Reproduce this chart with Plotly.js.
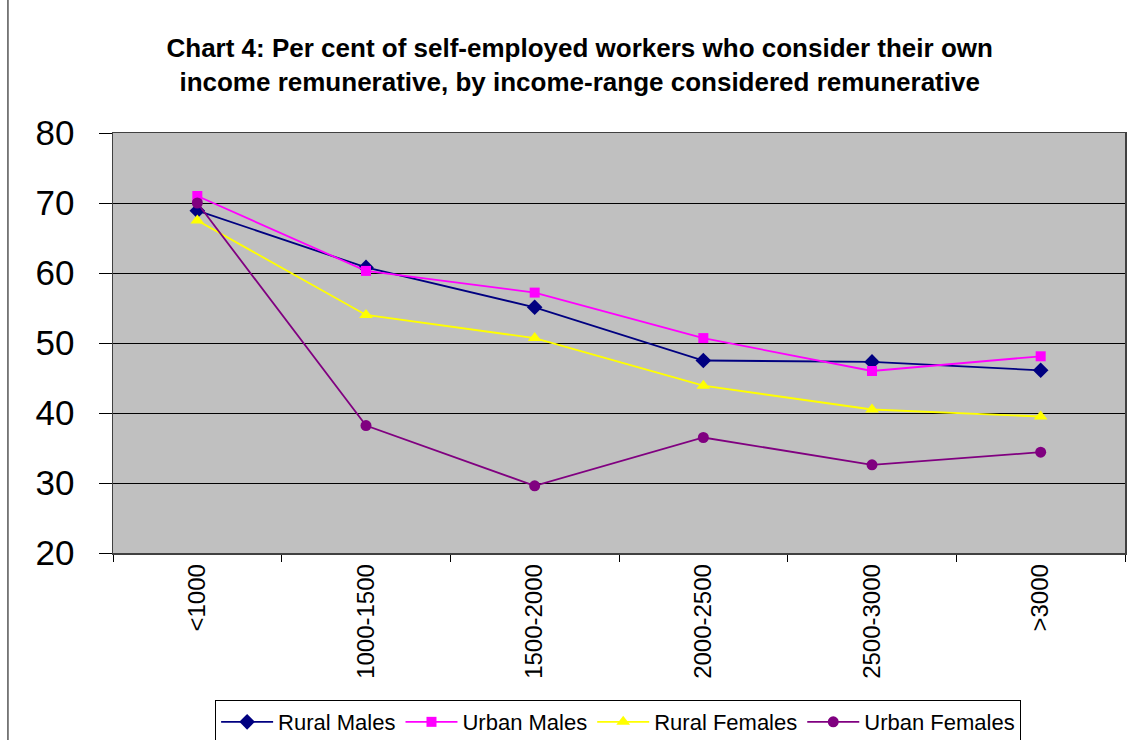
<!DOCTYPE html>
<html>
<head>
<meta charset="utf-8">
<script src="https://cdn.plot.ly/plotly-3.0.1.min.js"></script>
<style>html,body{margin:0;padding:0;background:#fff;}#chart{width:1130px;height:740px;}</style>
</head>
<body>
<div id="chart"></div>
<script>
var categories = ["<1000", "1000-1500", "1500-2000", "2000-2500", "2500-3000", ">3000"];
var ruralMales = [68.9, 60.8, 55.1, 47.5, 47.3, 46.1];
var urbanMales = [71.0, 60.3, 57.2, 50.7, 46.0, 48.1];
var ruralFemales = [67.5, 54.0, 50.7, 43.9, 40.5, 39.5];
var urbanFemales = [70.0, 38.2, 29.6, 36.5, 32.6, 34.4];
var yTicks = [20, 30, 40, 50, 60, 70, 80];

function series(name, y, color, symbol, size) {
  return {
    type: 'scatter', mode: 'lines+markers', name: name,
    x: categories, y: y,
    line: {color: color, width: 1.8},
    marker: {color: color, symbol: symbol, size: size}
  };
}

var data = [
  series('Rural Males', ruralMales, '#000080', 'diamond', 12),
  series('Urban Males', urbanMales, '#FF00FF', 'square', 10),
  series('Rural Females', ruralFemales, '#FFFF00', 'triangle-up', 12),
  series('Urban Females', urbanFemales, '#800080', 'circle', 11)
];

var layout = {
  width: 1130, height: 740,
  margin: {l: 113, r: 5, t: 133, b: 187},
  paper_bgcolor: '#FFFFFF',
  plot_bgcolor: '#C0C0C0',
  font: {family: 'Liberation Sans, Arial, sans-serif', color: '#000'},
  title: {
    text: '<b>Chart 4: Per cent of self-employed workers who consider their own<br>income remunerative, by income-range considered remunerative</b>',
    font: {size: 26, color: '#000', family: 'Liberation Sans, Arial, sans-serif'},
    x: 0.513, xanchor: 'center', y: 0.923, yanchor: 'middle'
  },
  xaxis: {
    type: 'category',
    range: [-0.5, 5.5],
    tickangle: -90,
    tickfont: {size: 24},
    ticks: 'outside', ticklen: 7, tickcolor: '#000',
    tickson: 'boundaries',
    showgrid: false,
    showline: true, linecolor: '#404040', linewidth: 1.5, mirror: true,
    fixedrange: true
  },
  yaxis: {
    range: [20, 80],
    tickvals: yTicks,
    tickfont: {size: 35},
    ticks: 'outside', ticklen: 13, tickcolor: '#000',
    ticklabelstandoff: 17,
    showgrid: true, gridcolor: '#000', gridwidth: 1,
    zeroline: false,
    showline: true, linecolor: '#404040', linewidth: 1.5, mirror: true,
    fixedrange: true
  },
  showlegend: true,
  legend: {
    orientation: 'h',
    xref: 'container', yref: 'container',
    x: 0.547, xanchor: 'center',
    y: 0.054, yanchor: 'top',
    bordercolor: '#000', borderwidth: 1,
    bgcolor: '#FFFFFF',
    font: {size: 22},
    itemwidth: 52,
    traceorder: 'normal'
  },
  shapes: [
    {type: 'line', xref: 'paper', yref: 'paper', x0: -0.1038, x1: -0.1038, y0: -0.46, y1: 1.33, line: {color: '#000', width: 1}}
  ]
};

Plotly.newPlot('chart', data, layout, {displayModeBar: false, staticPlot: true});
</script>
</body>
</html>
